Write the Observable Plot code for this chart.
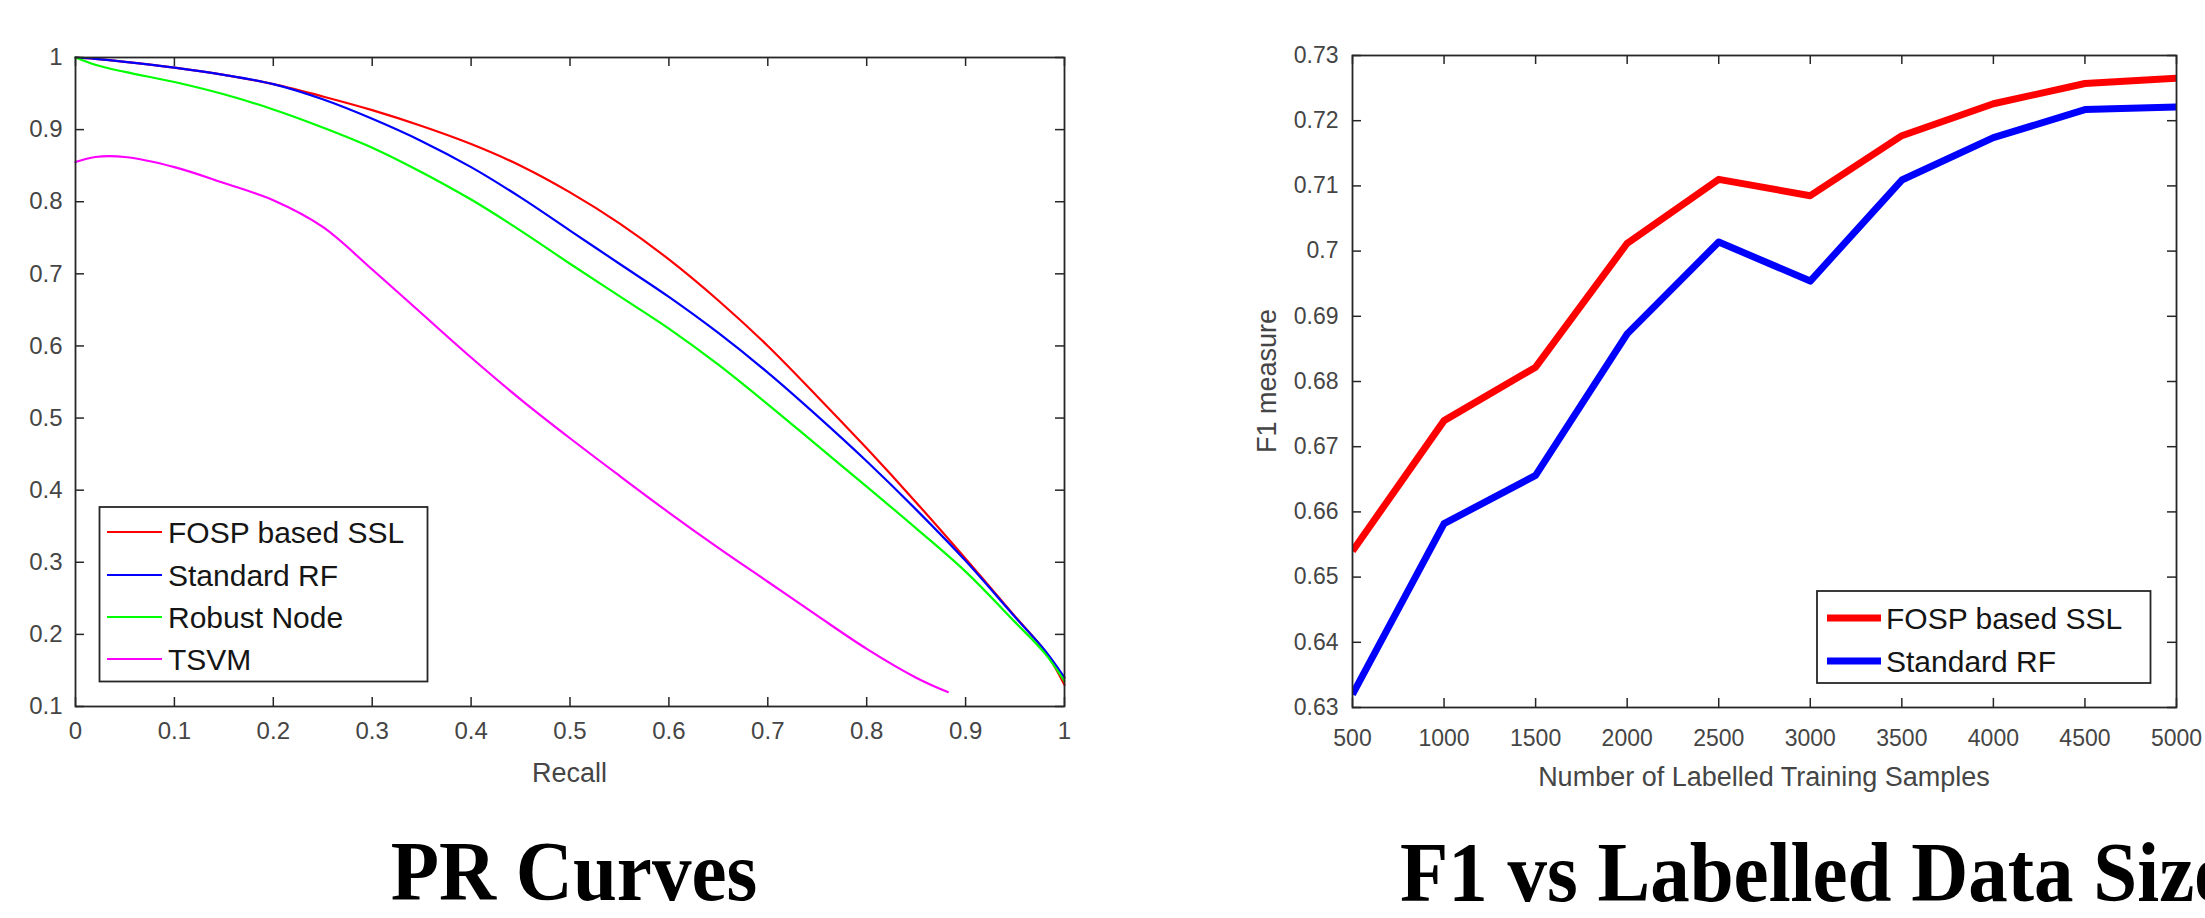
<!DOCTYPE html>
<html><head><meta charset="utf-8">
<script src="https://cdn.jsdelivr.net/npm/d3@7"></script>
<script src="https://cdn.jsdelivr.net/npm/@observablehq/plot@0.6"></script>
<style>
html,body{margin:0;padding:0;background:#fff;overflow:hidden;}
#page{position:relative;width:2205px;height:918px;overflow:hidden;background:#fff;}
#page > svg, #page > div{position:absolute;}
</style></head><body><div id="page"></div>
<script>
// ---------- Data: PR curves ----------
const prRecall = [0, 0.02, 0.05, 0.1, 0.15, 0.2, 0.25, 0.3, 0.35, 0.4, 0.45, 0.5, 0.55, 0.6, 0.65, 0.7, 0.75, 0.8, 0.85, 0.9, 0.95, 0.98, 1.0];
const fospPrecision   = [1.0, 0.998, 0.994, 0.986, 0.976, 0.963, 0.946, 0.927, 0.905, 0.880, 0.850, 0.813, 0.770, 0.720, 0.663, 0.600, 0.530, 0.458, 0.383, 0.305, 0.225, 0.177, 0.130];
const rfPrecision     = [1.0, 0.998, 0.994, 0.986, 0.976, 0.963, 0.942, 0.915, 0.884, 0.848, 0.806, 0.760, 0.714, 0.668, 0.618, 0.563, 0.503, 0.440, 0.373, 0.302, 0.224, 0.178, 0.140];
const robustPrecision = [1.0, 0.990, 0.980, 0.966, 0.949, 0.928, 0.903, 0.875, 0.841, 0.803, 0.760, 0.714, 0.669, 0.624, 0.574, 0.519, 0.462, 0.405, 0.347, 0.287, 0.217, 0.174, 0.135];
const tsvmRecall    = [0, 0.02, 0.05, 0.1, 0.15, 0.2, 0.25, 0.3, 0.35, 0.4, 0.45, 0.5, 0.55, 0.6, 0.65, 0.7, 0.75, 0.8, 0.85, 0.882];
const tsvmPrecision = [0.855, 0.862, 0.862, 0.848, 0.826, 0.802, 0.765, 0.706, 0.645, 0.584, 0.526, 0.472, 0.420, 0.369, 0.320, 0.273, 0.226, 0.180, 0.140, 0.120];
const prSeriesNames  = ["FOSP based SSL", "Standard RF", "Robust Node", "TSVM"];
const prSeriesColors = ["#ff0000", "#0000ff", "#00ff00", "#ff00ff"];
const prXTicks = [0, 0.1, 0.2, 0.3, 0.4, 0.5, 0.6, 0.7, 0.8, 0.9, 1];
const prYTicks = [0.1, 0.2, 0.3, 0.4, 0.5, 0.6, 0.7, 0.8, 0.9, 1];
const prXLabel = "Recall";
const prTitle = "PR Curves";

// ---------- Data: F1 vs labelled size ----------
const sampleSizes = [500, 1000, 1500, 2000, 2500, 3000, 3500, 4000, 4500, 5000];
const f1FOSP = [0.6540, 0.6740, 0.6822, 0.7012, 0.7110, 0.7085, 0.7177, 0.7226, 0.7257, 0.7265];
const f1RF   = [0.6320, 0.6582, 0.6656, 0.6873, 0.7014, 0.6954, 0.7109, 0.7174, 0.7217, 0.7221];
const f1SeriesNames  = ["FOSP based SSL", "Standard RF"];
const f1SeriesColors = ["#ff0000", "#0000ff"];
const f1XTicks = [500, 1000, 1500, 2000, 2500, 3000, 3500, 4000, 4500, 5000];
const f1YTicks = [0.63, 0.64, 0.65, 0.66, 0.67, 0.68, 0.69, 0.70, 0.71, 0.72, 0.73];
const f1XLabel = "Number of Labelled Training Samples";
const f1YLabel = "F1 measure";
const f1Title = "F1 vs Labelled Data Size";

// ---------- Build tables ----------
const prData = [
  ...prRecall.map((r, i) => ({recall: r, precision: fospPrecision[i], s: prSeriesNames[0]})),
  ...prRecall.map((r, i) => ({recall: r, precision: rfPrecision[i], s: prSeriesNames[1]})),
  ...prRecall.map((r, i) => ({recall: r, precision: robustPrecision[i], s: prSeriesNames[2]})),
  ...tsvmRecall.map((r, i) => ({recall: r, precision: tsvmPrecision[i], s: prSeriesNames[3]}))
];
const f1Data = [
  ...sampleSizes.map((n, i) => ({n, f1: f1FOSP[i], s: f1SeriesNames[0]})),
  ...sampleSizes.map((n, i) => ({n, f1: f1RF[i], s: f1SeriesNames[1]}))
];

const fmt = d => String(+(+d).toFixed(2));
const axisColor = "#262626";
const tickColor = "#454545";
const sans = "'Liberation Sans', Arial, Helvetica, sans-serif";
const page = document.getElementById("page");

// ---------- Left: PR curves ----------
{
  const W = 1100, H = 760, mL = 75, mR = 36, mT = 57, mB = 54;
  const fh = H - mT - mB, fw = W - mL - mR, tl = 9;
  const chart = Plot.plot({
    width: W, height: H,
    marginLeft: mL, marginRight: mR, marginTop: mT, marginBottom: mB,
    x: {domain: [0, 1]},
    y: {domain: [0.1, 1]},
    color: {domain: prSeriesNames, range: prSeriesColors},
    style: {fontFamily: sans, fontSize: "24px", color: tickColor, background: "transparent", overflow: "visible"},
    marks: [
      Plot.line(prData, {x: "recall", y: "precision", z: "s", stroke: "s", strokeWidth: 2.2, curve: "catmull-rom"}),
      Plot.ruleX(prXTicks, {x: d => d, insetTop: fh - tl, stroke: axisColor, strokeWidth: 1.5}),
      Plot.ruleX(prXTicks, {x: d => d, insetBottom: fh - tl, stroke: axisColor, strokeWidth: 1.5}),
      Plot.ruleY(prYTicks, {y: d => d, insetRight: fw - tl, stroke: axisColor, strokeWidth: 1.5}),
      Plot.ruleY(prYTicks, {y: d => d, insetLeft: fw - tl, stroke: axisColor, strokeWidth: 1.5}),
      Plot.frame({stroke: axisColor, strokeWidth: 1.8}),
      Plot.axisX(prXTicks, {tickSize: 0, tickPadding: 15, tickFormat: fmt, label: null, fontSize: 24}),
      Plot.axisY(prYTicks, {tickSize: 0, tickPadding: 13, tickFormat: fmt, label: null, fontSize: 24})
    ]
  });
  chart.style.left = "0px"; chart.style.top = "0px";
  page.appendChild(chart);
}

// ---------- Right: F1 vs labelled size ----------
{
  const L = 1150, W = 1055, H = 760, mL = 202, mR = 29, mT = 55, mB = 53;
  const fh = H - mT - mB, fw = W - mL - mR, tl = 9;
  const chart = Plot.plot({
    width: W, height: H,
    marginLeft: mL, marginRight: mR, marginTop: mT, marginBottom: mB,
    x: {domain: [500, 5000]},
    y: {domain: [0.63, 0.73]},
    color: {domain: f1SeriesNames, range: f1SeriesColors},
    style: {fontFamily: sans, fontSize: "23px", color: tickColor, background: "transparent", overflow: "visible"},
    marks: [
      Plot.line(f1Data, {x: "n", y: "f1", z: "s", stroke: "s", strokeWidth: 7, strokeLinejoin: "round", strokeLinecap: "butt", clip: true}),
      Plot.ruleX(f1XTicks, {x: d => d, insetTop: fh - tl, stroke: axisColor, strokeWidth: 1.5}),
      Plot.ruleX(f1XTicks, {x: d => d, insetBottom: fh - tl, stroke: axisColor, strokeWidth: 1.5}),
      Plot.ruleY(f1YTicks, {y: d => d, insetRight: fw - tl, stroke: axisColor, strokeWidth: 1.5}),
      Plot.ruleY(f1YTicks, {y: d => d, insetLeft: fw - tl, stroke: axisColor, strokeWidth: 1.5}),
      Plot.frame({stroke: axisColor, strokeWidth: 1.8}),
      Plot.axisX(f1XTicks, {tickSize: 0, tickPadding: 22, tickFormat: d => String(d), label: null, fontSize: 23}),
      Plot.axisY(f1YTicks, {tickSize: 0, tickPadding: 14, tickFormat: fmt, label: null, fontSize: 23})
    ]
  });
  chart.style.left = L + "px"; chart.style.top = "0px";
  page.appendChild(chart);
}

// ---------- Overlay: axis labels, legends, titles ----------
const ov = d3.select(page).append("svg")
  .attr("width", 2205).attr("height", 918)
  .style("left", "0px").style("top", "0px").style("pointer-events", "none");

ov.append("text").attr("x", 569.5).attr("y", 773).attr("text-anchor", "middle").attr("dominant-baseline", "central")
  .attr("font-family", sans).attr("font-size", 27).attr("fill", tickColor).text(prXLabel);
ov.append("text").attr("x", 1764).attr("y", 777).attr("text-anchor", "middle").attr("dominant-baseline", "central")
  .attr("font-family", sans).attr("font-size", 27).attr("fill", tickColor).text(f1XLabel);
ov.append("text").attr("transform", "translate(1267,381) rotate(-90)").attr("text-anchor", "middle").attr("dominant-baseline", "central")
  .attr("font-family", sans).attr("font-size", 27).attr("fill", tickColor).text(f1YLabel);

function legend(box, names, colors, rowYs, lineX0, lineX1, textX, lw) {
  const g = ov.append("g");
  g.append("rect").attr("x", box[0]).attr("y", box[1]).attr("width", box[2] - box[0]).attr("height", box[3] - box[1])
    .attr("fill", "#fff").attr("stroke", axisColor).attr("stroke-width", 1.8);
  names.forEach((n, i) => {
    g.append("line").attr("x1", lineX0).attr("x2", lineX1).attr("y1", rowYs[i]).attr("y2", rowYs[i])
      .attr("stroke", colors[i]).attr("stroke-width", lw);
    g.append("text").attr("x", textX).attr("y", rowYs[i]).attr("dominant-baseline", "central")
      .attr("font-family", sans).attr("font-size", 30).attr("fill", "#151515").text(n);
  });
}
legend([99.5, 507, 427.5, 681.5], prSeriesNames, prSeriesColors, [532, 575, 617, 659], 107, 162, 168, 2);
legend([1817, 591, 2150.5, 683], f1SeriesNames, f1SeriesColors, [618, 661], 1827, 1881, 1886, 7);

function title(txt, x, y, anchor) {
  ov.append("text").attr("transform", `translate(${x},${y}) scale(1,1.06)`).attr("text-anchor", anchor)
    .attr("font-family", "'Liberation Serif', 'Times New Roman', serif").attr("font-weight", "bold")
    .attr("font-size", 79).attr("fill", "#000").text(txt);
}
title(prTitle, 574, 900, "middle");
title(f1Title, 1400, 901, "start");
</script></body></html>
